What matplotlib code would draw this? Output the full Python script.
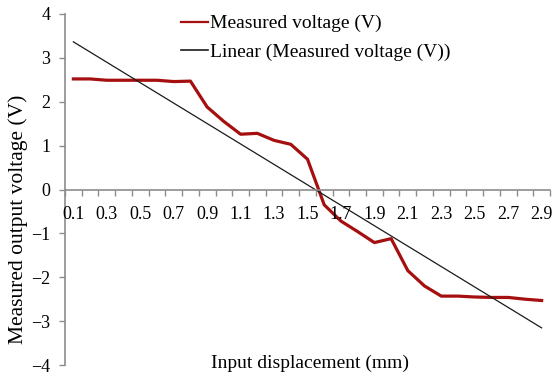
import numpy as np
import matplotlib
matplotlib.use("Agg")
import matplotlib.pyplot as plt

plt.rcParams.update({"font.family": ["Liberation Serif", "DejaVu Serif"],
                     "axes.unicode_minus": True})

# categories (input displacement, mm) and measured output voltage (V)
displacement = [0.1, 0.2, 0.3, 0.4, 0.5, 0.6, 0.7, 0.8, 0.9, 1.0,
                1.1, 1.2, 1.3, 1.4, 1.5, 1.6, 1.7, 1.8, 1.9, 2.0,
                2.1, 2.2, 2.3, 2.4, 2.5, 2.6, 2.7, 2.8, 2.9]
voltage = [2.52, 2.52, 2.49, 2.49, 2.49, 2.49, 2.46, 2.47, 1.88, 1.55,
           1.26, 1.28, 1.12, 1.03, 0.69, -0.35, -0.72, -0.96, -1.21, -1.12,
           -1.85, -2.20, -2.43, -2.43, -2.45, -2.46, -2.46, -2.50, -2.53]
yticks = [-4, -3, -2, -1, 0, 1, 2, 3, 4]

RED = "#a50f0f"
GRAY = "#8c8c8c"

x = np.arange(len(displacement))
slope, icpt = np.polyfit(x, voltage, 1)   # Excel-style linear trendline

fig = plt.figure(figsize=(5.54, 3.78), dpi=100)
ax = fig.add_axes([65/554, 1-365/378, 485/554, 351/378])

ax.plot(x, voltage, color=RED, lw=2.3, solid_joinstyle="round",
        label="Measured voltage (V)", zorder=2)
ax.plot(x, slope*x + icpt, color="#1a1a1a", lw=0.9,
        label="Linear (Measured voltage (V))", zorder=2)

ax.set_xlim(-0.5, len(x)-0.5)
ax.set_ylim(-4, 4)
ax.set_yticks(yticks)

# category axis: tick marks between categories, labels every other category
ax.set_xticks(x[::2])
ax.set_xticklabels([f"{d:.1f}" for d in displacement[::2]])
ax.set_xticks(np.arange(-0.5, len(x), 1.0), minor=True)
ax.tick_params(axis="x", which="major", length=0, pad=12, labelsize=13)
ax.tick_params(axis="x", which="minor", length=4.5, width=1, color=GRAY, direction="out")
ax.tick_params(axis="y", length=4.5, width=1, color=GRAY, pad=6, labelsize=13)
for lbl in ax.get_xticklabels():
    lbl.set_bbox(dict(facecolor="white", edgecolor="none", pad=1.5))

for s in ["top", "right"]:
    ax.spines[s].set_visible(False)
ax.spines["bottom"].set_position(("data", 0))
ax.spines["bottom"].set_color(GRAY)
ax.spines["left"].set_color(GRAY)
ax.spines["bottom"].set_linewidth(1.2)
ax.spines["left"].set_linewidth(1.2)
ax.set_axisbelow(False)
ax.patch.set_visible(False)

fig.text(18/554, 1-219/378, "Measured output voltage (V)", fontsize=15.5,
         rotation=90, ha="center", va="center")
fig.text(310/554, 1-363/378, "Input displacement (mm)", fontsize=14,
         ha="center", va="center")

leg = ax.legend(loc="upper left", bbox_to_anchor=(108/485, 1.02), frameon=False,
                fontsize=14, handlelength=1.4, handletextpad=0.1,
                labelspacing=0.55, borderaxespad=0)
leg.get_lines()[0].set_linewidth(1.6)
leg.get_lines()[1].set_linewidth(1.2)

fig.savefig("out.png", dpi=100)
